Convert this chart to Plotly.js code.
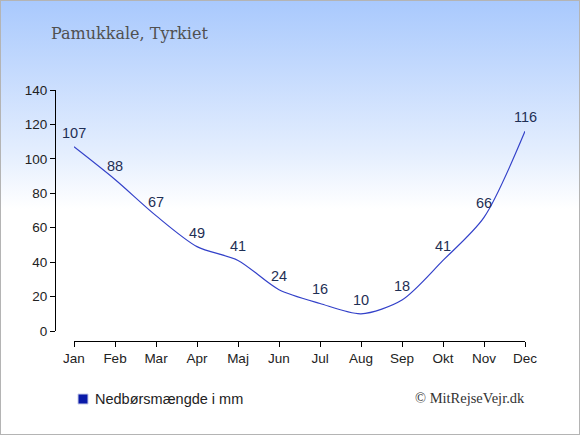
<!DOCTYPE html>
<html>
<head>
<meta charset="utf-8">
<script src="https://cdn.plot.ly/plotly-3.0.1.min.js"></script>
<style>
html,body{margin:0;padding:0;}
#wrap{width:578px;height:433px;border:1px solid #b4b4b4;background:linear-gradient(to bottom,#a9c9fd 0%,#e4eefe 35%,#ffffff 48%,#ffffff 100%);}
#chart{width:578px;height:433px;}
</style>
</head>
<body>
<div id="wrap"><div id="chart"></div></div>
<script>
const months = ["Jan","Feb","Mar","Apr","Maj","Jun","Jul","Aug","Sep","Okt","Nov","Dec"];
const precipitation = [107,88,67,49,41,24,16,10,18,41,66,116];
const yTicks = [0,20,40,60,80,100,120,140];
const chartTitle = "Pamukkale, Tyrkiet";
const seriesName = "Nedbørsmængde i mm";
const credit = "© MitRejseVejr.dk";

const xIdx = months.map((m,i)=>i);

const trace = {
  x: xIdx,
  y: precipitation,
  type: "scatter",
  mode: "lines",
  line: {color: "#3341c9", width: 1.2, shape: "spline", smoothing: 0.8},
  hoverinfo: "none",
  showlegend: false
};

const labelAnnotations = precipitation.map((v,i)=>({
  x: xIdx[i], y: v, xref: "x", yref: "y",
  text: String(v), showarrow: false,
  yshift: 14, xanchor: "center", yanchor: "middle",
  font: {family: "Liberation Sans, Arial, sans-serif", size: 14.5, color: "#1f2f55"}
}));

const layout = {
  width: 578, height: 433,
  paper_bgcolor: "rgba(0,0,0,0)",
  plot_bgcolor: "rgba(0,0,0,0)",
  margin: {l: 54, r: 54, t: 89, b: 93, pad: 0},
  showlegend: false,
  title: {
    text: chartTitle,
    font: {family: "DejaVu Serif, serif", size: 16, color: "#505050"},
    x: 50/578, xanchor: "left", xref: "container",
    y: 1 - 32/433, yanchor: "middle", yref: "container"
  },
  xaxis: {
    domain: [19/470, 1],
    range: [0, 11],
    anchor: "free", position: 0,
    tickmode: "array",
    tickvals: xIdx,
    ticktext: months,
    showline: true, linecolor: "#000", linewidth: 1,
    ticks: "outside", ticklen: 5, tickcolor: "#000",
    showgrid: false, zeroline: false,
    tickfont: {family: "Liberation Sans, Arial, sans-serif", size: 13.5, color: "#222"},
    fixedrange: true
  },
  yaxis: {
    domain: [10/251, 1],
    range: [0, 140],
    anchor: "free", position: 0,
    tickmode: "array",
    tickvals: yTicks,
    ticktext: yTicks.map(String),
    showline: true, linecolor: "#000", linewidth: 1,
    ticks: "outside", ticklen: 5, tickcolor: "#000",
    showgrid: false, zeroline: false,
    tickfont: {family: "Liberation Sans, Arial, sans-serif", size: 13.5, color: "#222"},
    fixedrange: true
  },
  shapes: [
    {type: "rect", xref: "paper", yref: "paper",
     x0: 23/470, x1: 33/470, y0: -63/251, y1: -53/251,
     fillcolor: "#0a1aa8", line: {width: 1, color: "#c8cce8"}}
  ],
  annotations: labelAnnotations.concat([
    {
      text: seriesName,
      xref: "paper", yref: "paper",
      x: 38/470, y: -58/251, xanchor: "left", yanchor: "middle",
      showarrow: false,
      font: {family: "Liberation Sans, Arial, sans-serif", size: 14.5, color: "#222"}
    },
    {
      text: credit,
      xref: "paper", yref: "paper",
      x: 472/470, y: -57/251, xanchor: "right", yanchor: "middle",
      showarrow: false,
      font: {family: "Liberation Serif, serif", size: 14.5, color: "#333"}
    }
  ])
};

Plotly.newPlot("chart", [trace], layout, {displayModeBar: false, staticPlot: true});
</script>
</body>
</html>
